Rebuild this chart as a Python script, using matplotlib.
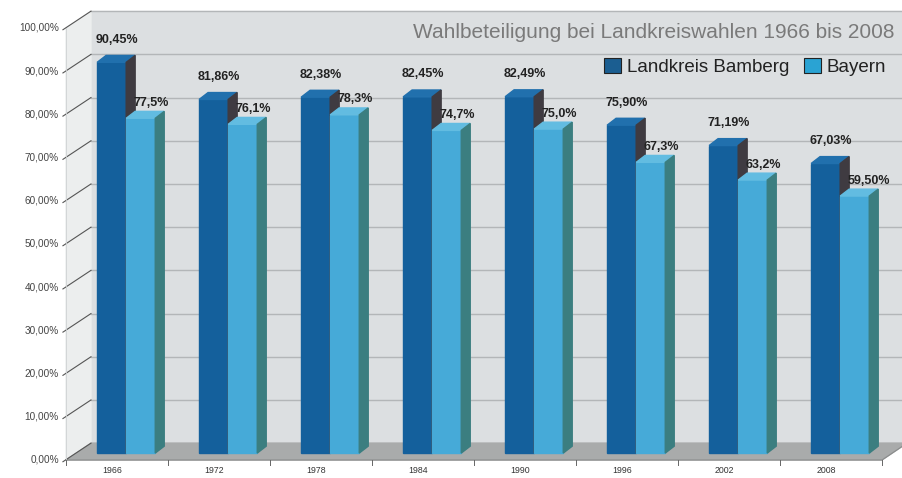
import matplotlib.pyplot as plt

years = ["1966", "1972", "1978", "1984", "1990", "1996", "2002", "2008"]
bamberg = [90.45, 81.86, 82.38, 82.45, 82.49, 75.90, 71.19, 67.03]
bayern = [77.5, 76.1, 78.3, 74.7, 75.0, 67.3, 63.2, 59.50]
bamberg_labels = ["90,45%", "81,86%", "82,38%", "82,45%", "82,49%", "75,90%", "71,19%", "67,03%"]
bayern_labels = ["77,5%", "76,1%", "78,3%", "74,7%", "75,0%", "67,3%", "63,2%", "59,50%"]
yticks = [0, 10, 20, 30, 40, 50, 60, 70, 80, 90, 100]

plt.rcParams["font.family"] = ["Liberation Sans", "DejaVu Sans"]

# pseudo 3d geometry (data units: x = group index, y = percent)
DX, DY = 0.245, 3.9        # wall depth
BX, BY = 0.09, 1.6         # bar plane offset
SX, SY = 0.088, 1.6        # bar depth
W = 0.285                  # bar width
n = len(years)
left, right = -0.5, n - 0.5

fig = plt.figure(figsize=(9.03, 4.78), dpi=100)
ax = fig.add_axes([0, 0, 1, 1])
ax.set_xlim(-117 / 102, (903 - 117) / 102)
ax.set_ylim(-18 / 4.32, 460 / 4.32)
ax.axis("off")

# walls
ax.fill([left + DX, right + 1, right + 1, left + DX],
        [DY, DY, 100 + DY, 100 + DY], color="#dcdfe1", zorder=0)
ax.fill([left, left + DX, left + DX, left],
        [0, DY, 100 + DY, 100], color="#eceeee", zorder=0)
ax.fill([left, right, right + DX, left + DX],
        [0, 0, DY, DY], color="#a9abab", zorder=1)
ax.plot([left, right, right + DX], [0, 0, DY], color="#8a8c8c", lw=0.8, zorder=1)

for t in yticks:
    ax.plot([left + DX, right + 1], [t + DY, t + DY], color="#b3b6b8", lw=1.0, zorder=0.5)
    ax.plot([left - 0.03, left + DX], [t - 0.4, t + DY], color="#555555", lw=0.8, zorder=1)
    ax.text(left - 0.07, t, f"{t},00%", ha="right", va="center", fontsize=7.2, color="#444444")
ax.plot([left, left], [0, 100], color="#cfd2d3", lw=0.6, zorder=1)

for i in range(n + 1):
    ax.plot([left + i, left + i], [0, -1.2], color="#666666", lw=0.7)
for i, y in enumerate(years):
    ax.text(i - 0.05, -2.5, y, ha="center", va="center", fontsize=6.3, color="#333333")


def bar3d(x0, val, front, top, side):
    x1 = x0 + W
    b = BY
    v = BY + val
    ax.fill([x0, x1, x1, x0], [b, b, v, v], color=front, zorder=3)
    ax.fill([x0, x1, x1 + SX, x0 + SX], [v, v, v + SY, v + SY], color=top, zorder=3)
    ax.fill([x1, x1 + SX, x1 + SX, x1], [b, b + SY, v + SY, v], color=side, zorder=3)


for i in range(n):
    c = i + BX
    bar3d(c - W, bamberg[i], "#14609c", "#2170ad", "#3f3b41")
    bar3d(c, bayern[i], "#46aad8", "#62bce1", "#3b7e80")
    ax.text(c - W / 2 + 0.05, BY + bamberg[i] + SY + 2.2, bamberg_labels[i],
            ha="center", va="bottom", fontsize=9, fontweight="bold", color="#222222", zorder=5)
    ax.text(c + 0.07, BY + bayern[i] + SY + 0.6, bayern_labels[i],
            ha="left", va="bottom", fontsize=9, fontweight="bold", color="#222222", zorder=5)

ax.text(7.62, (460 - 32) / 4.32, "Wahlbeteiligung bei Landkreiswahlen 1966 bis 2008",
        ha="right", va="center", fontsize=15, color="#7a7a7a")

handles = [plt.Rectangle((0, 0), 1, 1, facecolor="#1b5e91", edgecolor="#222222", lw=0.8),
           plt.Rectangle((0, 0), 1, 1, facecolor="#2aa3d3", edgecolor="#222222", lw=0.8)]
fig.legend(handles, ["Landkreis Bamberg", "Bayern"], loc="center right",
           bbox_to_anchor=(0.996, 1 - 67 / 478), ncol=2, frameon=False, fontsize=13.5,
           handlelength=0.9, handleheight=0.9, handletextpad=0.3, columnspacing=0.8,
           borderpad=0.2, labelcolor="#222222")

fig.savefig("out.png", dpi=100)
